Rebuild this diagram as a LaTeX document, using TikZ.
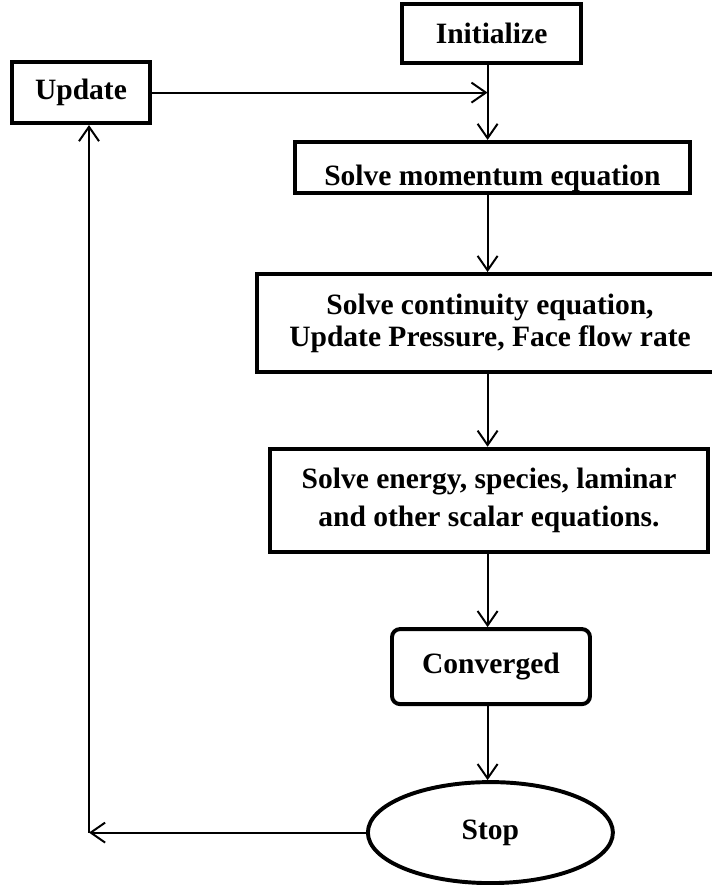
\documentclass[tikz,border=0pt]{standalone}
\usepackage{fontspec}
\setmainfont{Liberation Serif}
\usetikzlibrary{arrows.meta,shapes.geometric}
\definecolor{FlowInk}{HTML}{000000}

\begin{document}
\begin{tikzpicture}[x=1cm,y=1cm,
  box/.style={draw=FlowInk,line width=2.8pt,inner sep=0pt,align=center,
    font=\bfseries\fontsize{21}{22.8}\selectfont},
  flow/.style={draw=FlowInk,line width=1.4pt,-{Straight Barb[length=3.6mm,width=5mm]}}]
\path[use as bounding box] (0,0) rectangle (17.80,22.125);
\coordinate (spine) at (12.19,0);
\node[box,minimum width=4.475cm,minimum height=1.475cm] (init) at (12.29,21.29) {Initialize};
\node[box,minimum width=3.45cm,minimum height=1.525cm] (update) at (2.025,19.81) {Update};
\node[box,minimum width=9.875cm,minimum height=1.275cm,text height=26pt,text depth=0pt] (mom) at (12.31,17.94) {Solve momentum equation};
\node[box,minimum width=11.65cm,minimum height=2.45cm] (cont) at (12.25,14.05) {Solve continuity equation,\\Update Pressure, Face flow rate};
\node[box,minimum width=10.95cm,minimum height=2.575cm,font=\bfseries\fontsize{21}{27}\selectfont] (energy) at (12.225,9.62) {Solve energy, species, laminar\\and other scalar equations.};
\node[box,rounded corners=0.2cm,minimum width=4.95cm,minimum height=1.875cm] (conv) at (12.275,5.46) {Converged};
\node[box,ellipse,minimum width=6.125cm,minimum height=2.525cm] (stop) at (12.26,1.31) {Stop};
\coordinate (back) at (2.225,1.31);
\draw[flow] (spine |- init.south) -- (spine |- mom.north);
\draw[flow] (update.east) -- (spine |- update.east);
\draw[flow] (spine |- mom.south) -- (spine |- cont.north);
\draw[flow] (spine |- cont.south) -- (spine |- energy.north);
\draw[flow] (spine |- energy.south) -- (spine |- conv.north);
\draw[flow] (spine |- conv.south) -- (spine |- stop.north);
\draw[flow] (stop.west) -- (back);
\draw[flow] (back) -- (back |- update.south);
\end{tikzpicture}
\end{document}
